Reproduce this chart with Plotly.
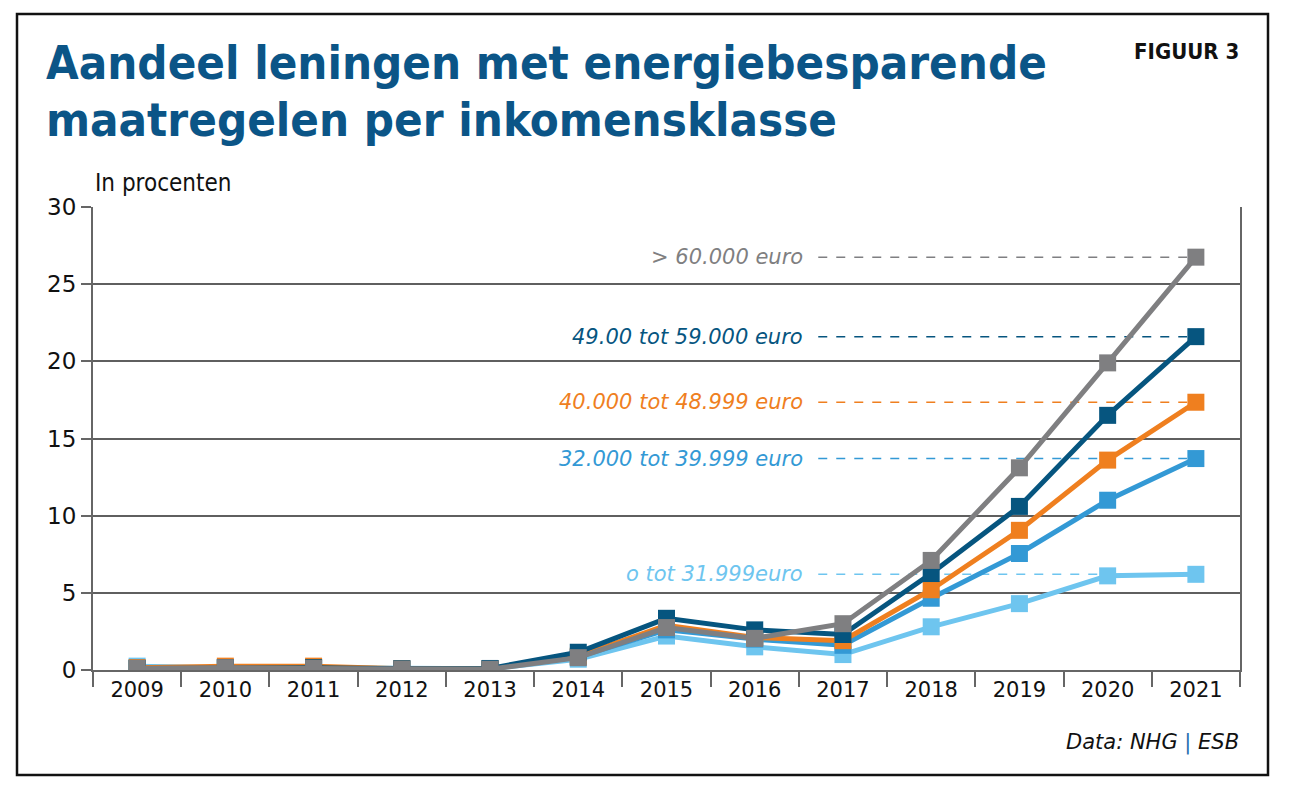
import plotly.graph_objects as go

years = ["2009", "2010", "2011", "2012", "2013", "2014", "2015", "2016", "2017", "2018", "2019", "2020", "2021"]

light_blue = [0.25, 0.15, 0.15, 0.08, 0.08, 0.7, 2.2, 1.5, 1.0, 2.8, 4.3, 6.1, 6.2]
mid_blue = [0.15, 0.15, 0.15, 0.08, 0.08, 0.85, 2.6, 2.0, 1.6, 4.65, 7.55, 11.0, 13.7]
orange = [0.15, 0.25, 0.25, 0.08, 0.08, 0.9, 2.9, 2.1, 1.9, 5.2, 9.05, 13.6, 17.35]
dark_blue = [0.1, 0.15, 0.15, 0.08, 0.1, 1.15, 3.35, 2.6, 2.3, 6.25, 10.6, 16.5, 21.6]
gray = [0.1, 0.15, 0.1, 0.05, 0.05, 0.8, 2.75, 2.05, 3.0, 7.1, 13.1, 19.9, 26.75]

labels = ["0 tot 31.999euro", "32.000 tot 39.999 euro", "40.000 tot 48.999 euro",
          "49.00 tot 59.000 euro", "> 60.000 euro"]
label_texts = ["o tot 31.999euro", "32.000 tot 39.999 euro", "40.000 tot 48.999 euro",
               "49.00 tot 59.000 euro", "> 60.000 euro"]
series = [light_blue, mid_blue, orange, dark_blue, gray]
colors = ["#6ec5ef", "#3399d5", "#ef7f1f", "#06557f", "#7f7f81"]

title_color = "#0b5587"
COND = "DejaVu Sans Condensed, Roboto Condensed, DejaVu Sans, sans-serif"
BODY = "DejaVu Sans, sans-serif"

fig = go.Figure()
for name, vals, col in zip(labels, series, colors):
    fig.add_trace(go.Scatter(
        x=years, y=vals, name=name, mode="lines+markers",
        line=dict(color=col, width=5),
        marker=dict(symbol="square", size=17, color=col),
        showlegend=False,
    ))

shapes = []
annotations = []
for txt, vals, col in zip(label_texts, series, colors):
    yv = vals[-1]
    shapes.append(dict(type="line", xref="x", yref="y", x0=7.72, x1=11.9, y0=yv, y1=yv,
                       line=dict(color=col, width=1.5, dash="dash"), layer="below"))
    annotations.append(dict(x=7.57, y=yv, xref="x", yref="y", text="<i>" + txt + "</i>",
                            showarrow=False, xanchor="right", yanchor="middle",
                            font=dict(family=BODY, size=21, color=col)))


def px_x(p):
    return (p - 93) / 1147


def px_y(p):
    return (670 - p) / 463


# outer frame
shapes.append(dict(type="rect", xref="paper", yref="paper",
                   x0=px_x(17), x1=px_x(1268), y0=px_y(775), y1=px_y(14),
                   line=dict(color="#111111", width=2.5), layer="below"))

annotations += [
    dict(x=px_x(44), y=px_y(62), xref="paper", yref="paper",
         text="<b>Aandeel leningen met energiebesparende</b>", showarrow=False,
         xanchor="left", yanchor="middle",
         font=dict(family=COND, size=47, color=title_color)),
    dict(x=px_x(44), y=px_y(120), xref="paper", yref="paper",
         text="<b>maatregelen per inkomensklasse</b>", showarrow=False,
         xanchor="left", yanchor="middle",
         font=dict(family=COND, size=47, color=title_color)),
    dict(x=px_x(1241), y=px_y(52), xref="paper", yref="paper",
         text="<b>FIGUUR 3</b>", showarrow=False, xanchor="right", yanchor="middle",
         font=dict(family=COND, size=22, color="#111111")),
    dict(x=px_x(93), y=px_y(183), xref="paper", yref="paper",
         text="In procenten", showarrow=False, xanchor="left", yanchor="middle",
         font=dict(family=COND, size=24, color="#111111")),
    dict(x=px_x(1241), y=px_y(742), xref="paper", yref="paper",
         text="<i>Data: NHG <span style='color:#1f6fb0'>|</span> ESB</i>", showarrow=False,
         xanchor="right", yanchor="middle",
         font=dict(family=BODY, size=21, color="#111111")),
]

fig.update_layout(
    width=1299, height=792,
    margin=dict(l=93, r=59, t=207, b=122),
    paper_bgcolor="white", plot_bgcolor="white",
    shapes=shapes, annotations=annotations,
    xaxis=dict(type="category", range=[-0.5, 12.5], tickson="boundaries",
               ticks="outside", ticklen=15, tickwidth=2, tickcolor="#666666",
               showgrid=False, showline=True, linecolor="#666666", linewidth=2,
               tickfont=dict(family=BODY, size=21, color="#111111"),
               zeroline=False),
    yaxis=dict(range=[0, 30], dtick=5, tick0=0, ticks="outside", ticklen=10,
               tickwidth=2, tickcolor="#666666",
               showgrid=True, gridcolor="#5f5f5f", gridwidth=2,
               showline=True, linecolor="#666666", linewidth=2, mirror=True,
               zeroline=False,
               tickfont=dict(family=BODY, size=23, color="#111111")),
)

fig.write_html("out.html")
